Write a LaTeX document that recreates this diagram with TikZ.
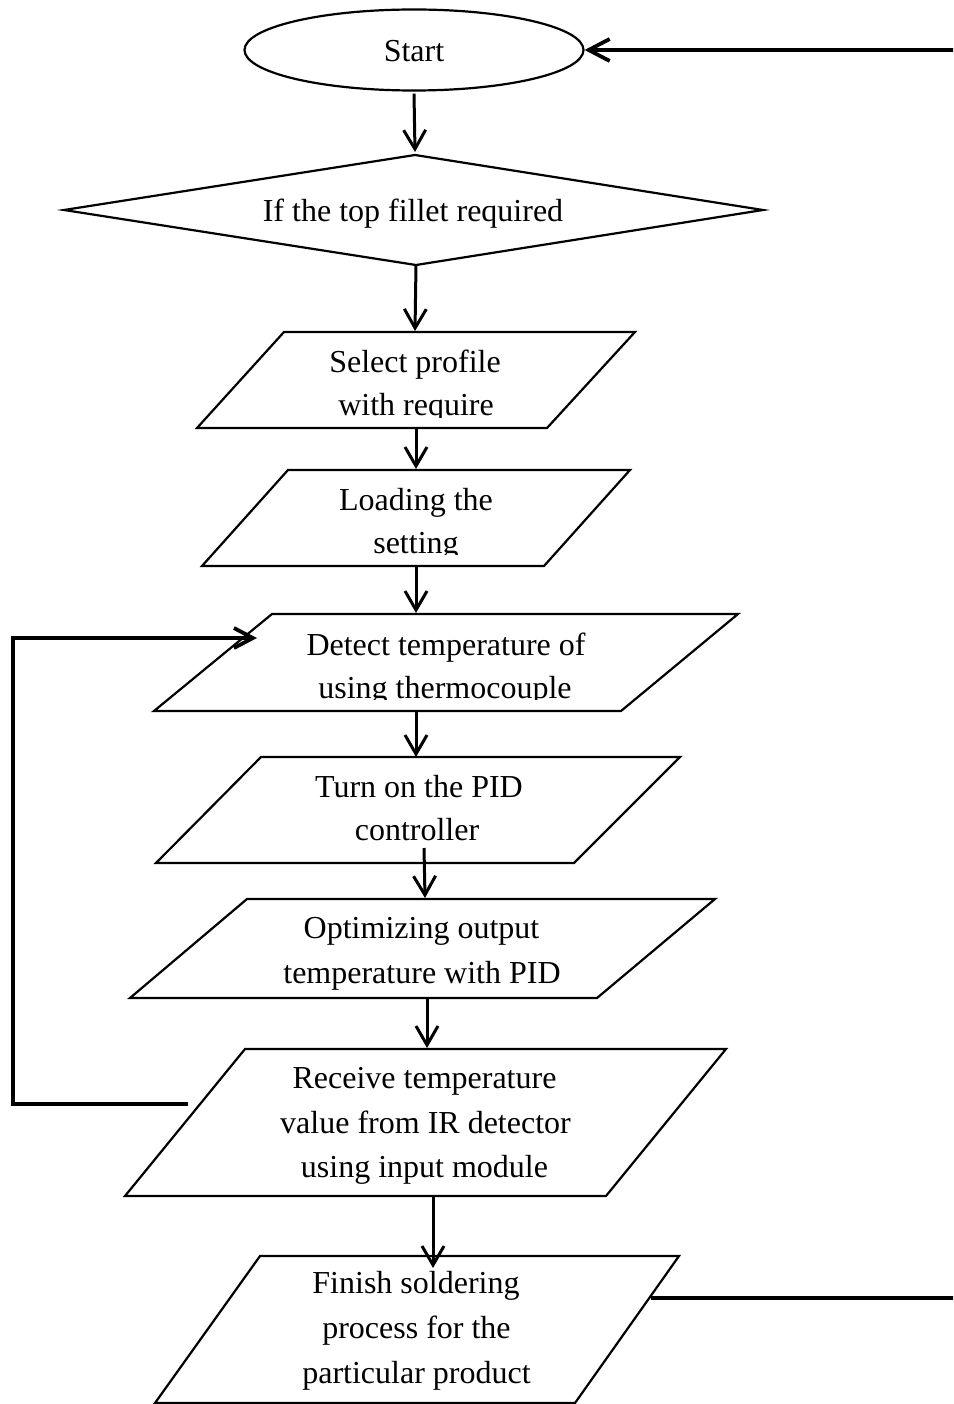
\documentclass[tikz,border=0pt]{standalone}
\usepackage{fontspec}
\setmainfont{Liberation Serif}
\usetikzlibrary{arrows.meta,shapes.geometric}
\begin{document}
\begin{tikzpicture}[x=1pt,y=-1pt,
  shapeline/.style={draw, line width=2.2pt, line join=miter},
  txt/.style={font=\fontsize{32}{44}\selectfont, inner sep=0pt, anchor=base},
  flow/.style={line width=3pt, -{Straight Barb[length=19pt,width=22pt]}},
  backline/.style={line width=3.8pt, line join=miter},
]
\clip (0,0) rectangle (953,1404);

% ---- terminal ----
\node[shapeline, ellipse, minimum width=339pt, minimum height=81pt, inner sep=0pt] (start) at (414,50) {};
\node[txt] (start-t) at (414,62) {Start};

% ---- decision ----
\draw[shapeline] (415,155) coordinate (dia-t) -- (763,210) -- (416,265) coordinate (dia-b) -- (64,210) -- cycle;
\node[txt] (dia-l) at (413,222) {If the top fillet required};

% ---- select profile ----
\draw[shapeline] (284,332) -- (635,332) -- (547,428) -- (197,428) -- cycle;
\coordinate (sel-t) at (415,331);
\coordinate (sel-b) at (416,428);
\node[txt] (sel-1) at (415,372) {Select profile};
\begin{scope}
  \clip (150,380) rectangle (700,417);
  \node[txt] (sel-2) at (416,415) {with require};
\end{scope}

% ---- loading the setting ----
\draw[shapeline] (288,470) -- (630,470) -- (544,566) -- (202,566) -- cycle;
\coordinate (ld-t) at (416,469);
\coordinate (ld-b) at (416,566);
\node[txt] (ld-1) at (416,510) {Loading the};
\begin{scope}
  \clip (150,520) rectangle (700,554.8);
  \node[txt] (ld-2) at (416,553) {setting};
\end{scope}

% ---- detect temperature ----
\draw[shapeline] (272,614) -- (738,614) -- (621,711) -- (154,711) -- cycle;
\coordinate (det-t) at (416,613);
\coordinate (det-b) at (416,711);
\coordinate (det-w) at (257,638);
\node[txt] (det-1) at (446,655) {Detect temperature of};
\begin{scope}
  \clip (150,665) rectangle (750,699.6);
  \node[txt] (det-2) at (445,698) {using thermocouple};
\end{scope}

% ---- PID on ----
\draw[shapeline] (261,757) -- (680,757) -- (574,863) -- (156,863) -- cycle;
\coordinate (pid-t) at (416,757);
\coordinate (pid-b) at (424,848);
\node[txt] (pid-1) at (419,797) {Turn on the PID};
\node[txt] (pid-2) at (417,840) {controller};

% ---- optimizing ----
\draw[shapeline] (247,899) -- (715,899) -- (597,998) -- (130,998) -- cycle;
\coordinate (opt-t) at (425,898);
\coordinate (opt-b) at (427,998);
\node[txt] (opt-1) at (421.5,938) {Optimizing output};
\node[txt] (opt-2) at (422,983) {temperature with PID};

% ---- receive ----
\draw[shapeline] (245,1049) -- (726,1049) -- (606,1196) -- (125,1196) -- cycle;
\coordinate (rcv-t) at (427,1048);
\coordinate (rcv-b) at (433,1196);
\coordinate (rcv-w) at (188,1104);
\node[txt] (rcv-1) at (424.5,1088) {Receive temperature};
\node[txt] (rcv-2) at (425.5,1133) {value from IR detector};
\node[txt] (rcv-3) at (424.5,1177) {using input module};

% ---- finish ----
\draw[shapeline] (260,1256) -- (679,1256) -- (575,1403) -- (155,1403) -- cycle;
\coordinate (fin-t) at (433,1268);
\coordinate (fin-e) at (651,1298);
\node[txt] (fin-1) at (416,1293) {Finish soldering};
\node[txt] (fin-2) at (416.5,1338) {process for the};
\node[txt] (fin-3) at (416.5,1383) {particular product};

% ---- flow connectors ----
\draw[flow] ([yshift=-2pt]start.south) -- ([yshift=3pt]dia-t);
\draw[flow] (dia-b) -- (sel-t);
\draw[flow] (sel-b) -- (ld-t);
\draw[flow] (ld-b) -- (det-t);
\draw[flow] (det-b) -- (pid-t);
\draw[flow] (pid-b) -- (opt-t);
\draw[flow] (opt-b) -- (rcv-t);
\draw[flow] (rcv-b) -- (fin-t);

% ---- feedback loop ----
\draw[backline, -{Straight Barb[length=19pt,width=20pt]}]
  (rcv-w) -- (13,1104) -- (13,638) -- (det-w);

% ---- return to start ----
\draw[backline, -{Straight Barb[length=21pt,width=22pt]}]
  (fin-e) -- (980,1298) -- (980,50) -- (start.east);
\end{tikzpicture}
\end{document}
